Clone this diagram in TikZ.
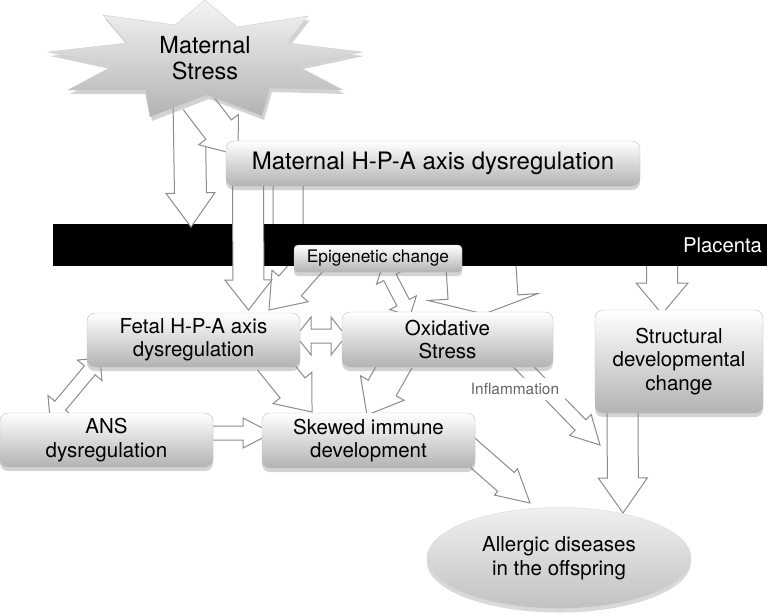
\documentclass[tikz,border=0pt]{standalone}
\usepackage{fontspec}
\setmainfont{TeX Gyre Heros}
\usetikzlibrary{calc, shadows, shapes.geometric}
\pgfdeclarelayer{under}
\pgfdeclarelayer{bar}
\pgfdeclarelayer{over}
\pgfsetlayers{under,bar,over,main}

% block arrow: tail, tip, shaft half width, head half width, head length
\newcommand{\fatarrow}[5]{%
  \path ($(#2)!#5!(#1)$) coordinate (hb);
  \filldraw[flow] ($(#1)!#3!90:(#2)$) -- ($(hb)!#3!-90:(#1)$) -- ($(hb)!#4!-90:(#1)$) -- (#2)
    -- ($(hb)!#4!90:(#1)$) -- ($(hb)!#3!90:(#1)$) -- ($(#1)!#3!-90:(#2)$);
}
% block arrow with two heads
\newcommand{\twinarrow}[5]{%
  \path ($(#2)!#5!(#1)$) coordinate (hb) ($(#1)!#5!(#2)$) coordinate (ha);
  \filldraw[flow] (#1) -- ($(ha)!#4!90:(#2)$) -- ($(ha)!#3!90:(#2)$) -- ($(hb)!#3!-90:(#1)$)
    -- ($(hb)!#4!-90:(#1)$) -- (#2) -- ($(hb)!#4!90:(#1)$) -- ($(hb)!#3!90:(#1)$)
    -- ($(ha)!#3!-90:(#2)$) -- ($(ha)!#4!-90:(#2)$) -- cycle;
}

\begin{document}
\begin{tikzpicture}[x=1pt, y=-1pt,
    box/.style={rectangle, rounded corners=8pt, top color=white, bottom color=black!30,
      draw=black!25, line width=0.4pt, align=center, inner sep=0pt,
      drop shadow={shadow xshift=0pt, shadow yshift=-4pt, opacity=0.35},
      font=\fontsize{20.5}{23.5}\selectfont},
    burst/.style={top color=black!4, bottom color=black!30, draw=black!20, line width=0.4pt,
      drop shadow={shadow xshift=2pt, shadow yshift=-4pt, opacity=0.35}},
    flow/.style={draw=black!45, fill=white, line width=1pt, line join=miter},
    lbl/.style={fill=white, text=black!60, inner xsep=6pt, inner ysep=5pt,
      font=\fontsize{15.4}{17}\selectfont}]
  \useasboundingbox (0,0) rectangle (767,614);

  % Maternal stress
  \path[burst] (205,0) -- (237,27) -- (308,16) -- (287,43) -- (362,52) -- (297,66)
    -- (343,90) -- (270,88) -- (262,116) -- (207,95) -- (150,117) -- (145,90)
    -- (68,90) -- (113,66) -- (48,52) -- (127,43) -- (103,15) -- (175,25) -- cycle;
  \node[align=center, font=\fontsize{23.5}{26}\selectfont] (stress) at (205,58) {Maternal\\Stress};

  % Boxes
  \node[box, minimum width=414pt, minimum height=45pt, font=\fontsize{24}{27}\selectfont]
    (mhpa) at (433,163.5) {Maternal H-P-A axis dysregulation};
  \node[box, rounded corners=4pt, minimum width=168pt, minimum height=27pt,
    font=\fontsize{17.3}{20}\selectfont] (epi) at (378,258.5) {Epigenetic change};
  \node[box, minimum width=213pt, minimum height=54pt] (fhpa) at (193.5,340) {Fetal H-P-A axis\\dysregulation};
  \node[box, minimum width=211pt, minimum height=55pt] (oxi) at (447.5,339.5) {Oxidative\\Stress};
  \node[box, minimum width=168pt, minimum height=103pt] (struct) at (679,361.5) {Structural\\developmental\\change};
  \node[box, minimum width=213pt, minimum height=54pt] (ans) at (106.5,440) {ANS\\dysregulation};
  \node[box, minimum width=213pt, minimum height=55pt] (skew) at (368.5,440.5) {Skewed immune\\development};
  \node[ellipse, top color=black!6, bottom color=black!24, draw=black!15, line width=0.4pt,
    minimum width=264pt, minimum height=101pt, align=center, inner sep=0pt,
    drop shadow={shadow xshift=0pt, shadow yshift=-4pt, opacity=0.3},
    font=\fontsize{20.5}{23.5}\selectfont] (allergy) at (559,558) {Allergic diseases\\in the offspring};
  \node[lbl] (infl) at (515,389) {Inflammation};

  % Placenta
  \begin{pgfonlayer}{bar}
    \node[fill=black, minimum width=714pt, minimum height=42pt, text width=704pt, inner xsep=5pt,
      align=right, text=white, font=\fontsize{20.3}{23}\selectfont] (placenta) at (410,245) {Placenta};
  \end{pgfonlayer}

  % Arrow ends
  \coordinate (stress-a) at (189,100);   \coordinate (placenta-a) at (191,227);
  \coordinate (stress-b) at (196,100);   \coordinate (mhpa-b) at (238,155);
  \coordinate (mhpa-c) at (248,175);     \coordinate (fhpa-c) at (248.5,310);
  \coordinate (mhpa-d) at (288,175);     \coordinate (placenta-d) at (288,258);
  \coordinate (placenta-e) at (480,250); \coordinate (oxi-e) at (484,314);
  \coordinate (placenta-f) at (662,250); \coordinate (struct-f) at (662,314);
  \coordinate (epi-g) at (332,238);      \coordinate (fhpa-g) at (269,310);
  \coordinate (epi-h) at (383,264);      \coordinate (oxi-h) at (410,316);
  \coordinate (fhpa-i) at (296,336);     \coordinate (oxi-i) at (346,336);
  \coordinate (fhpa-j) at (100,358);     \coordinate (ans-j) at (50,418);
  \coordinate (ans-k) at (205,433);      \coordinate (skew-k) at (272,433);
  \coordinate (fhpa-l) at (270,360);     \coordinate (skew-l) at (312,412);
  \coordinate (oxi-m) at (398,360);      \coordinate (skew-m) at (367,415);
  \coordinate (skew-n) at (465,446);     \coordinate (allergy-n) at (530,503);
  \coordinate (oxi-o) at (512,355);      \coordinate (allergy-o) at (600,445);
  \coordinate (struct-p) at (622.5,405); \coordinate (allergy-p) at (623,513);

  % Arrows below the placenta
  \begin{pgfonlayer}{under}
    \fatarrow{mhpa-d}{placenta-d}{15pt}{25pt}{32pt}
    \fatarrow{placenta-e}{oxi-e}{35pt}{55pt}{17pt}
    \fatarrow{placenta-f}{struct-f}{15.5pt}{26pt}{31pt}
    \fatarrow{epi-g}{fhpa-g}{15pt}{24pt}{32pt}
  \end{pgfonlayer}

  % Arrows above the placenta
  \begin{pgfonlayer}{over}
    \fatarrow{stress-a}{placenta-a}{16pt}{24.5pt}{34pt}
    \fatarrow{stress-b}{mhpa-b}{16pt}{25pt}{32pt}
    \fatarrow{mhpa-c}{fhpa-c}{15.5pt}{23.5pt}{30pt}
    \twinarrow{epi-h}{oxi-h}{7pt}{15pt}{15pt}
    \twinarrow{fhpa-i}{oxi-i}{7pt}{19pt}{15pt}
    \twinarrow{fhpa-j}{ans-j}{7pt}{16pt}{16pt}
    \fatarrow{ans-k}{skew-k}{7pt}{15pt}{29pt}
    \fatarrow{fhpa-l}{skew-l}{16pt}{25pt}{31pt}
    \fatarrow{oxi-m}{skew-m}{16pt}{25pt}{31pt}
    \fatarrow{skew-n}{allergy-n}{12.5pt}{17.5pt}{32pt}
    \fatarrow{oxi-o}{allergy-o}{7.5pt}{15pt}{28pt}
    \fatarrow{struct-p}{allergy-p}{15.5pt}{24.5pt}{35pt}
  \end{pgfonlayer}
\end{tikzpicture}
\end{document}
